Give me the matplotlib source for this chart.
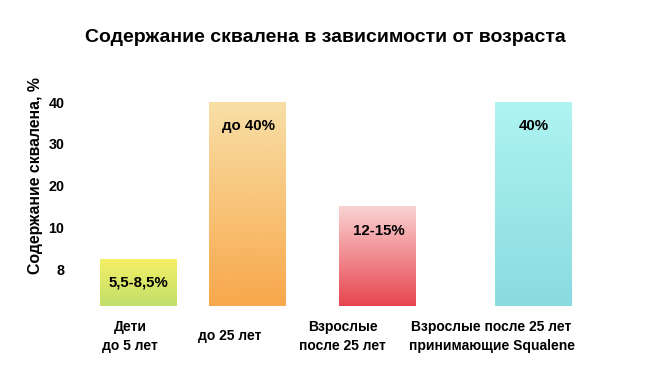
import numpy as np
import matplotlib
matplotlib.use("Agg")
import matplotlib.pyplot as plt
from matplotlib.colors import LinearSegmentedColormap

plt.rcParams["font.family"] = ["Liberation Sans", "DejaVu Sans"]

TITLE  = "Содержание сквалена в зависимости от возраста"
YLABEL = "Содержание сквалена, %"

categories = ["Дети\nдо 5 лет", "до 25 лет", "Взрослые\nпосле 25 лет",
              "Взрослые после 25 лет\nпринимающие Squalene"]
values     = [8.5, 40, 15, 40]
bar_texts  = ["5,5-8,5%", "до 40%", "12-15%", "40%"]
tick_vals  = [8, 10, 20, 30, 40]
tick_labs  = ["8", "10", "20", "30", "40"]

# gradient colours: (top, bottom)
grad_colors = [("#f5f064", "#c2de6c"),
               ("#f8dfa6", "#f8a84c"),
               ("#fad2d2", "#e7454f"),
               ("#aff4f1", "#89dbe0")]

# layout (uneven spacing as in the original picture)
BAR_X   = [0.0, 1.0, 2.19, 3.61]
LABEL_X = [-0.07, 0.84, 1.87, 3.23]
BAR_W   = 0.70

# the original axis is not linear: piecewise mapping
SCALE_V = [0, 8, 10, 40, 60]
SCALE_P = [0, 37, 79, 204, 287.4]


def fwd(v):
    return np.interp(v, SCALE_V, SCALE_P)


def inv(p):
    return np.interp(p, SCALE_P, SCALE_V)


W, H = 667, 373
fig = plt.figure(figsize=(W / 100, H / 100), dpi=100)
ax = fig.add_axes([70 / W, (H - 306) / H, 570 / W, 216 / H])
ax.set_yscale("function", functions=(fwd, inv))
ax.set_xlim(-0.62, 4.585)
ax.set_ylim(0, 42.9)

bars = ax.bar(BAR_X, values, width=BAR_W, color="none", edgecolor="none")

for rect, (top, bottom) in zip(bars, grad_colors):
    x0, x1 = rect.get_x(), rect.get_x() + rect.get_width()
    pts = ax.transAxes.inverted().transform(
        ax.transData.transform([(x0, 0), (x1, rect.get_height())]))
    cmap = LinearSegmentedColormap.from_list("g", [bottom, top])
    grad = np.linspace(0, 1, 256).reshape(-1, 1)
    im = ax.imshow(grad, cmap=cmap, aspect="auto", origin="lower",
                   extent=[pts[0, 0], pts[1, 0], pts[0, 1], pts[1, 1]],
                   transform=ax.transAxes, zorder=2)
    im.set_clip_path(rect)

for x, v, t in zip(BAR_X, values, bar_texts):
    ax.annotate(t, (x, v), xytext=(0.5, -17.5), textcoords="offset points",
                ha="center", va="center", fontsize=10.8,
                fontweight="bold", zorder=3)

for x, c in zip(LABEL_X, categories):
    ax.text(x, -0.14, c, ha="center", va="center", fontsize=10,
            fontweight="bold", linespacing=1.45,
            transform=ax.get_xaxis_transform())

ax.set_yticks(tick_vals)
ax.set_yticklabels(tick_labs, fontsize=10.3, fontweight="bold")
ax.tick_params(axis="y", length=0, pad=4)
ax.set_xticks([])
for s in ax.spines.values():
    s.set_visible(False)

fig.text(36 / W, 1 - 176 / H, YLABEL, rotation=90, ha="center", va="center",
         fontsize=11.4, fontweight="bold")
fig.text(325 / W, 1 - 37 / H, TITLE, ha="center", va="center",
         fontsize=14, fontweight="bold")

fig.savefig("out.png", dpi=100)
